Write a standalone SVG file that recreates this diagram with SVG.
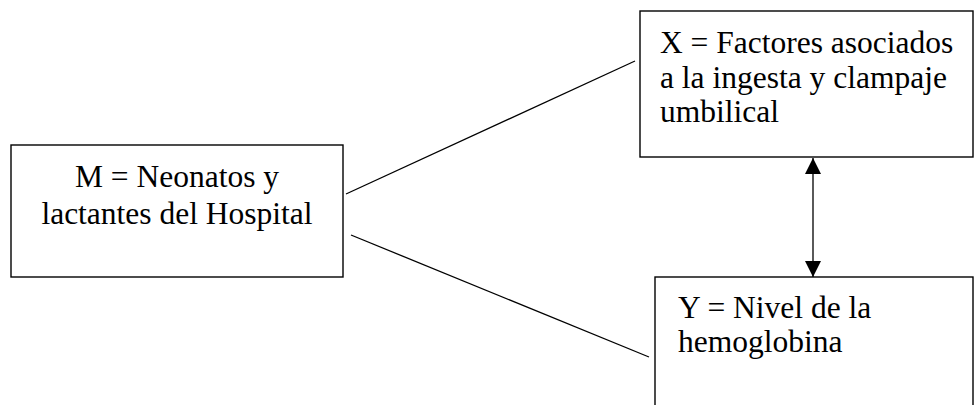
<svg xmlns="http://www.w3.org/2000/svg" width="974" height="405" viewBox="0 0 974 405">
<style>
.box{fill:#fff;stroke:#000;stroke-width:1.4}
.t{font-family:"Liberation Serif","Times New Roman",serif;font-size:31.5px;fill:#000}
.c{stroke:#000;stroke-width:1.3;fill:none}
</style>
<defs>
<marker id="ah" viewBox="0 0 16 16" refX="16" refY="8" markerWidth="16" markerHeight="16" markerUnits="userSpaceOnUse" orient="auto-start-reverse">
<path d="M0,0 L16,8 L0,16 Z" fill="#000"/>
</marker>
</defs>
<rect width="974" height="405" fill="#fff"/>
<g id="connectors">
<line class="c" x1="346" y1="194" x2="635" y2="61"/>
<line class="c" x1="351" y1="235" x2="649" y2="357"/>
<line class="c" x1="813" y1="158" x2="813" y2="277" marker-start="url(#ah)" marker-end="url(#ah)"/>
</g>
<g id="node-m">
<rect class="box" x="11" y="145" width="332" height="132"/>
<text class="t" x="177" y="187" text-anchor="middle">M = Neonatos y</text>
<text class="t" x="177" y="224" text-anchor="middle">lactantes del Hospital</text>
</g>
<g id="node-x">
<rect class="box" x="640" y="11" width="333" height="146"/>
<text class="t" x="660" y="53">X = Factores asociados</text>
<text class="t" x="660" y="88">a la ingesta y clampaje</text>
<text class="t" x="660" y="122">umbilical</text>
</g>
<g id="node-y">
<rect class="box" x="655" y="277" width="318" height="140"/>
<text class="t" x="678" y="318">Y = Nivel de la</text>
<text class="t" x="678" y="352">hemoglobina</text>
</g>
</svg>
